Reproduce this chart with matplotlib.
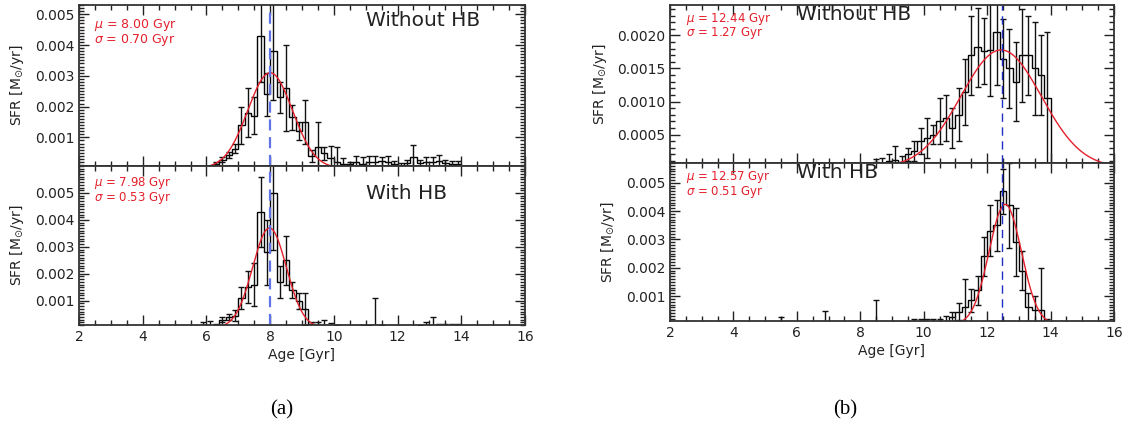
import matplotlib
matplotlib.use('Agg')
import matplotlib.pyplot as plt
import numpy as np
from matplotlib.ticker import MultipleLocator, FixedLocator, FormatStrFormatter

# ── data (bin width 0.2 Gyr) ──
# (a) top: without HB
a_top_start = 6.2
a_top_sfr = [0.00015, 0.00028, 0.00042, 0.00063, 0.0014, 0.0018, 0.0017, 0.0043, 0.0024, 0.0038,
             0.0023, 0.0026, 0.00165, 0.0012, 0.0015, 0.0004, 0.0007, 0.00048, 0.00033,
             0.0002, 0.00012, 0.00012, 0.0002, 0.00015, 0.0002, 0.0002, 0.00022, 0.0002, 0.00012,
             0.00008, 0.00018, 0.00036, 0.00018, 0.0002, 0.0002, 0.00022, 0.00018, 0.00012, 0.00012]
a_top_err = [0.00005, 0.00008, 0.0001, 0.00015, 0.0006, 0.0008, 0.0006, 0.0015, 0.0007, 0.0016,
             0.0005, 0.0014, 0.0004, 0.0003, 0.0007, 0.0002, 0.0008, 0.0002, 0.0004,
             0.0005, 0.0002, 0.00008, 0.0002, 0.0002, 0.0002, 0.0002, 0.00015, 0.0002, 0.0001,
             0.0001, 0.0001, 0.0004, 0.0001, 0.00015, 0.00015, 0.0002, 0.0001, 0.0001, 0.0001]
a_top_mu, a_top_sig, a_top_peak = 8.00, 0.70, 0.0031

# (a) bottom: with HB
a_bot_start = 5.6
a_bot_sfr = [0.00003, 0.0001, 0.00008, 0.0001, 0.0003, 0.0004, 0.00045, 0.0011, 0.0015, 0.0016,
             0.0043, 0.0028, 0.0050, 0.0017, 0.0025, 0.0014, 0.0010, 0.0007, 0.00012, 0.0001,
             0.0001, 0.00008, 0.00005, 0.0, 0.0, 0.00003, 0.00005, 0.00005, 0.0001, 0.00005,
             0.0, 0.0, 0.0, 0.0, 0.0, 0.00005, 0.0001, 0.0001, 0.00008, 0.00008, 0.00008, 0.0001]
a_bot_err = [0.00005, 0.0001, 0.00015, 0.00005, 0.0001, 0.0001, 0.0002, 0.0004, 0.0006, 0.0008,
             0.0013, 0.0012, 0.0021, 0.0006, 0.0009, 0.0003, 0.0003, 0.0006, 0.0001, 0.0001,
             0.0002, 0.0001, 0.00005, 0.0, 0.0, 0.00005, 0.00005, 0.00005, 0.001, 0.00005,
             0.0, 0.0, 0.0, 0.0, 0.0, 0.00005, 0.0001, 0.0003, 0.00005, 0.00005, 0.00005, 0.00005]
a_bot_mu, a_bot_sig, a_bot_peak = 7.98, 0.53, 0.0037

# (b) top: without HB
b_top_start = 8.4
b_top_sfr = [0.00008, 0.00005, 0.0001, 0.00012, 0.00008, 0.0002, 0.00025, 0.0004, 0.00045, 0.0005,
             0.0007, 0.00075, 0.0006, 0.0008, 0.00115, 0.0017, 0.00182, 0.00177, 0.00178, 0.00205,
             0.00165, 0.0015, 0.0013, 0.0017, 0.0017, 0.0015, 0.0014, 0.00105]
b_top_err = [0.00005, 0.0001, 0.0001, 0.0002, 0.0001, 0.0001, 0.00015, 0.0002, 0.0003, 0.00015,
             0.00035, 0.00035, 0.0003, 0.0004, 0.0005, 0.0006, 0.0006, 0.0005, 0.0007, 0.0008,
             0.0006, 0.0006, 0.0006, 0.0007, 0.0006, 0.0007, 0.0006, 0.0010]
b_top_mu, b_top_sig, b_top_peak = 12.44, 1.27, 0.00178

# (b) bottom: with HB
b_bot_start = 5.4
b_bot_sfr = [0.00002, 0.0, 0.0, 0.0, 0.0, 0.0, 0.0, 0.00003, 0.0, 0.0,
             0.0, 0.0, 0.0, 0.0, 0.0, 0.00005, 0.0, 0.0, 0.00003, 0.00005,
             0.00005, 0.00008, 0.00008, 0.0001, 0.0001, 0.00008, 0.0001, 0.00025, 0.00045, 0.0006,
             0.00085, 0.0012, 0.0024, 0.0033, 0.0035, 0.0047, 0.0042, 0.0029, 0.0019, 0.0006,
             0.0005, 0.0005, 0.0001]
b_bot_err = [0.00025, 0.0, 0.0, 0.0, 0.0, 0.0, 0.0, 0.00045, 0.0, 0.0,
             0.0, 0.0, 0.0, 0.0, 0.0, 0.0008, 0.0, 0.0, 0.00005, 0.00005,
             0.00005, 0.0001, 0.0001, 0.0001, 0.0001, 0.0001, 0.0002, 0.0002, 0.0003, 0.0010,
             0.0004, 0.0005, 0.0007, 0.0009, 0.0009, 0.0008, 0.0015, 0.0012, 0.0007, 0.0005,
             0.0005, 0.0015, 0.0001]
b_bot_mu, b_bot_sig, b_bot_peak = 12.57, 0.51, 0.00424

BIN = 0.2
RED = '#e4202c'

fig = plt.figure(figsize=(11.28, 4.28), dpi=100)
W, H = 1128., 428.

def make_ax(x0, x1, y0, y1):
    return fig.add_axes([x0 / W, 1 - y1 / H, (x1 - x0) / W, (y1 - y0) / H])

def panel(ax, start, sfr, err, mu, sig, peak, ylim, major, label, vline, vstyle,
          text_pos, stat_pos, stat_size):
    sfr = np.array(sfr)
    err = np.array(err)
    edges = start + BIN * np.arange(len(sfr) + 1)
    centers = 0.5 * (edges[:-1] + edges[1:])
    ax.stairs(sfr, edges, color='k', lw=1.0)
    ax.errorbar(centers, sfr, yerr=err, fmt='none', ecolor='#111111', elinewidth=1.0,
                capsize=2.2, capthick=1.0)
    xx = np.linspace(2, 16, 600)
    ax.plot(xx, peak * np.exp(-(xx - mu) ** 2 / (2 * sig ** 2)), color=RED, lw=1.0)
    ax.axvline(vline, **vstyle)
    ax.set_xlim(2, 16)
    ax.set_ylim(*ylim)
    ax.xaxis.set_major_locator(MultipleLocator(2))
    ax.xaxis.set_minor_locator(MultipleLocator(0.5))
    ax.yaxis.set_major_locator(FixedLocator(major))
    ax.yaxis.set_minor_locator(MultipleLocator(0.0001))
    ax.tick_params(which='both', direction='in', top=True, right=True, labelsize=10,
                   colors='#222222', width=1.0)
    ax.tick_params(which='major', length=7)
    ax.tick_params(which='minor', length=3.5)
    for s in ax.spines.values():
        s.set_linewidth(1.3)
        s.set_color('#333333')
    ax.set_ylabel(r'SFR [M$_{\odot}$/yr]', fontsize=10, color='#222222', labelpad=6)
    ax.text(text_pos[0], text_pos[1], label, transform=ax.transAxes, fontsize=14.5,
            color='#222222', ha='left', va='center')
    ax.text(stat_pos[0], stat_pos[1], r'$\mu$ = %.2f Gyr' % mu, transform=ax.transAxes,
            fontsize=stat_size, color=RED, ha='left', va='center')
    ax.text(stat_pos[0], stat_pos[2], r'$\sigma$ = %.2f Gyr' % sig, transform=ax.transAxes,
            fontsize=stat_size, color=RED, ha='left', va='center')

left_dash = dict(color='#5f73e6', lw=1.6, ls=(0, (5, 3)))
right_dash = dict(color='#1f2fc4', lw=1.0, ls=(0, (6, 4)))

ax1 = make_ax(79, 525, 5, 166)
panel(ax1, a_top_start, a_top_sfr, a_top_err, a_top_mu, a_top_sig, a_top_peak,
      (0.00007, 0.0053), [0.001, 0.002, 0.003, 0.004, 0.005], 'Without HB', 8.0,
      left_dash, (0.643, 0.905), (0.034, 0.876, 0.783), 9)
ax1.tick_params(labelbottom=False)

ax2 = make_ax(79, 525, 166, 325)
panel(ax2, a_bot_start, a_bot_sfr, a_bot_err, a_bot_mu, a_bot_sig, a_bot_peak,
      (0.0001, 0.006), [0.001, 0.002, 0.003, 0.004, 0.005], 'With HB', 8.0,
      left_dash, (0.643, 0.83), (0.034, 0.89, 0.80), 8.5)
ax2.set_xlabel('Age [Gyr]', fontsize=10, color='#222222', labelpad=3)

ax3 = make_ax(670, 1114, 5, 163)
panel(ax3, b_top_start, b_top_sfr, b_top_err, b_top_mu, b_top_sig, b_top_peak,
      (0.00007, 0.00246), [0.0005, 0.0010, 0.0015, 0.0020], 'Without HB', 12.46,
      right_dash, (0.286, 0.94), (0.036, 0.911, 0.823), 8.5)
ax3.yaxis.set_major_formatter(FormatStrFormatter('%.4f'))
ax3.tick_params(labelbottom=False)

ax4 = make_ax(670, 1114, 163, 321)
panel(ax4, b_bot_start, b_bot_sfr, b_bot_err, b_bot_mu, b_bot_sig, b_bot_peak,
      (0.00012, 0.0057), [0.001, 0.002, 0.003, 0.004, 0.005], 'With HB', 12.46,
      right_dash, (0.286, 0.94), (0.036, 0.911, 0.816), 8.5)
ax4.set_xlabel('Age [Gyr]', fontsize=10, color='#222222', labelpad=3)

fig.text(282 / W, 1 - 410 / H, '(a)', fontsize=15, family='Liberation Serif',
         ha='center', va='center')
fig.text(845 / W, 1 - 410 / H, '(b)', fontsize=15, family='Liberation Serif',
         ha='center', va='center')

plt.savefig('out.png', dpi=100)
print('Saved out.png')
